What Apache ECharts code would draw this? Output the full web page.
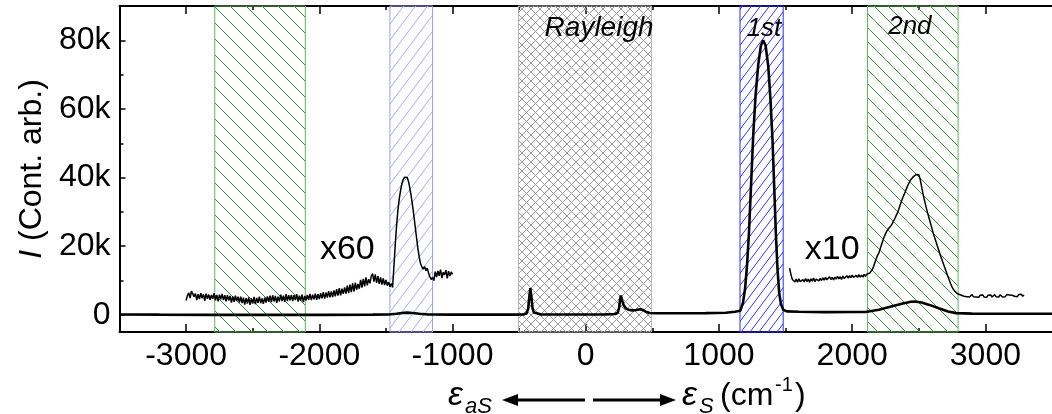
<!DOCTYPE html>
<html>
<head>
<meta charset="utf-8">
<script src="https://cdn.jsdelivr.net/npm/echarts@6/dist/echarts.min.js"></script>
<style>
  html, body { margin: 0; padding: 0; background: #fff; }
  #chart { width: 1052px; height: 414px; }
</style>
</head>
<body>
<div id="chart"></div>
<script>
// Raman shift (cm-1) and intensity of the full spectrum
const mainShift = [-3500, -3200, -2800, -2400, -2000, -1600, -1480, -1420, -1380, -1340, -1300, -1250, -1180, -1000, -700, -520,
  -470, -445, -432, -424, -416, -408, -400, -390, -375, -340, -200, 0, 150, 220, 240, 250, 258, 264, 272, 285, 300, 320, 350,
  380, 405, 425, 450, 480, 520, 700, 900, 1050, 1120, 1160, 1180, 1195, 1210, 1225, 1240, 1258, 1275, 1295, 1315, 1332, 1350,
  1370, 1387, 1402, 1415, 1427, 1440, 1452, 1465, 1482, 1510, 1600, 1800, 2000, 2100, 2200, 2300, 2380, 2440, 2470, 2520,
  2580, 2650, 2720, 2780, 2900, 3100, 3300, 3500];
const mainCounts = [100, 50, 0, 0, 0, 50, 100, 300, 550, 650, 550, 300, 100, 50, 50, 50,
  100, 400, 1800, 5000, 7800, 5200, 2000, 700, 300, 150, 100, 100, 150, 250, 600, 2000, 4500, 5600, 4300, 2800, 1900, 1500, 1300,
  1400, 1650, 1500, 900, 550, 450, 450, 500, 600, 900, 1200, 3500, 7300, 14000, 23800, 37000, 53000, 64000, 73000, 78500, 80000, 78500,
  72500, 62500, 51000, 37000, 23800, 13000, 6400, 3200, 1500, 1000, 900, 800, 850, 850, 1500, 2500, 3300, 3800, 3900, 3600,
  2900, 1900, 1000, 500, 350, 300, 300, 300];

// anti-Stokes side, magnified x60
const x60Shift = [
  -3000, -2990, -2980, -2970, -2960, -2950, -2940, -2930, -2920, -2910,
  -2900, -2890, -2880, -2870, -2860, -2850, -2840, -2830, -2820, -2810,
  -2800, -2790, -2780, -2770, -2760, -2750, -2740, -2730, -2720, -2710,
  -2700, -2690, -2680, -2670, -2660, -2650, -2640, -2630, -2620, -2610,
  -2600, -2590, -2580, -2570, -2560, -2550, -2540, -2530, -2520, -2510,
  -2500, -2490, -2480, -2470, -2460, -2450, -2440, -2430, -2420, -2410,
  -2400, -2390, -2380, -2370, -2360, -2350, -2340, -2330, -2320, -2310,
  -2300, -2290, -2280, -2270, -2260, -2250, -2240, -2230, -2220, -2210,
  -2200, -2190, -2180, -2170, -2160, -2150, -2140, -2130, -2120, -2110,
  -2100, -2090, -2080, -2070, -2060, -2050, -2040, -2030, -2020, -2010,
  -2000, -1990, -1980, -1970, -1960, -1950, -1940, -1930, -1920, -1910,
  -1900, -1890, -1880, -1870, -1860, -1850, -1840, -1830, -1820, -1810,
  -1800, -1790, -1780, -1770, -1760, -1750, -1740, -1730, -1720, -1710,
  -1700, -1690, -1680, -1670, -1660, -1650, -1640, -1630, -1620, -1610,
  -1600, -1590, -1580, -1570, -1560, -1550, -1540, -1530, -1520, -1510,
  -1500, -1490, -1480, -1470, -1460, -1450, -1440, -1430, -1420, -1410,
  -1400, -1390, -1380, -1370, -1360, -1350, -1340, -1330, -1320, -1310,
  -1300, -1290, -1280, -1270, -1260, -1250, -1240, -1230, -1220, -1210,
  -1200, -1190, -1180, -1170, -1160, -1150, -1140, -1130, -1120, -1110,
  -1100, -1090, -1080, -1070, -1060, -1050, -1040, -1030, -1020, -1010,
  -1000];
const x60Counts = [
  4200, 5600, 6400, 4900, 6900, 7400, 5300, 6200, 4300, 6000,
  4600, 6300, 4800, 6000, 4100, 6200, 4700, 5900, 4400, 5800,
  4700, 6300, 4200, 5800, 3900, 5900, 4500, 6100, 4300, 5700,
  3900, 5700, 4200, 5500, 3600, 5400, 3800, 5600, 4000, 5300,
  3600, 5300, 3400, 5000, 3000, 4900, 3300, 5100, 2900, 4800,
  3300, 5200, 3100, 4900, 3500, 5300, 3400, 4800, 3200, 5000,
  3600, 5400, 3800, 5600, 3700, 5700, 3900, 5500, 3500, 5300,
  3900, 5900, 4000, 5600, 3800, 6000, 4100, 5700, 4200, 5800,
  4000, 5700, 4300, 6000, 3900, 5600, 4100, 5900, 3700, 5500,
  4200, 5800, 4400, 6100, 4300, 5900, 4500, 6200, 4400, 6000,
  4600, 6300, 4800, 6600, 4700, 6500, 5000, 6900, 5100, 6800,
  5200, 7100, 5400, 7500, 5600, 7800, 5700, 7600, 6100, 8000,
  6200, 8500, 6300, 8800, 6600, 9200, 6800, 9400, 7300, 9000,
  7600, 10200, 7900, 10500, 8300, 10900, 8600, 10400, 9200, 11300,
  12000, 9700, 11800, 9300, 11300, 9000, 10900, 8800, 10600, 8700,
  10200, 8500, 9600, 8200, 9100, 8000, 14000, 20500, 26000, 30500,
  33800, 36300, 38200, 39500, 40100, 39700, 40000, 38800, 36800, 34500,
  31800, 28800, 25600, 22400, 19300, 16800, 14900, 14000, 13300, 14100,
  12900, 13600, 12200, 11100, 10300, 10900, 10000, 12600, 11000, 12800,
  11400, 13200, 10700, 12400, 11600, 13000, 10600, 12700, 11300, 12500,
  11800];

// Stokes side, magnified x10
const x10Shift = [
  1530, 1540, 1550, 1560, 1570, 1580, 1590, 1600, 1610, 1620,
  1630, 1640, 1650, 1660, 1670, 1680, 1690, 1700, 1710, 1720,
  1730, 1740, 1750, 1760, 1770, 1780, 1790, 1800, 1810, 1820,
  1830, 1840, 1850, 1860, 1870, 1880, 1890, 1900, 1910, 1920,
  1930, 1940, 1950, 1960, 1970, 1980, 1990, 2000, 2010, 2020,
  2030, 2040, 2050, 2060, 2070, 2080, 2090, 2100, 2110, 2120,
  2130, 2140, 2150, 2160, 2170, 2180, 2190, 2200, 2210, 2220,
  2230, 2240, 2250, 2260, 2270, 2280, 2290, 2300, 2310, 2320,
  2330, 2340, 2350, 2360, 2370, 2380, 2390, 2400, 2410, 2420,
  2430, 2440, 2450, 2460, 2470, 2480, 2490, 2500, 2510, 2520,
  2530, 2540, 2550, 2560, 2570, 2580, 2590, 2600, 2610, 2620,
  2630, 2640, 2650, 2660, 2670, 2680, 2690, 2700, 2710, 2720,
  2730, 2740, 2750, 2760, 2770, 2780, 2790, 2800, 2810, 2820,
  2830, 2840, 2850, 2860, 2870, 2880, 2890, 2900, 2910, 2920,
  2930, 2940, 2950, 2960, 2970, 2980, 2990, 3000, 3010, 3020,
  3030, 3040, 3050, 3060, 3070, 3080, 3090, 3100, 3110, 3120,
  3130, 3140, 3150, 3160, 3170, 3180, 3190, 3200, 3210, 3220,
  3230, 3240, 3250, 3260, 3270, 3280, 3290];
const x10Counts = [
  13600, 11800, 10400, 10100, 9600, 10400, 9500, 10500, 9700, 9400,
  10300, 9600, 10600, 9700, 10400, 9500, 10500, 9800, 10700, 9700,
  10400, 10800, 9900, 10600, 10000, 10800, 10100, 10900, 10200, 10700,
  11100, 10300, 10900, 10200, 11000, 10400, 11200, 10500, 11100, 10300,
  11300, 10600, 11100, 11400, 10700, 11400, 10800, 11600, 10900, 10600,
  11500, 10900, 11700, 11000, 11600, 11000, 11800, 11200, 11900, 11400,
  12100, 12500, 13100, 14000, 15200, 16300, 17300, 18000, 19200, 20400,
  21600, 22700, 23600, 24400, 25000, 25500, 25900, 26500, 27300, 28000,
  28900, 29700, 30800, 32000, 33100, 34200, 35100, 36000, 37000, 37900,
  38700, 39400, 39800, 40300, 40600, 40900, 40500, 40800, 39600, 37600,
  35600, 33800, 32200, 30600, 29200, 27800, 26400, 25000, 23600, 22400,
  21200, 20000, 18800, 17600, 16500, 15400, 14300, 13200, 12100, 11000,
  10000, 9000, 8100, 7400, 6900, 6500, 6200, 6000, 5800, 5700,
  5900, 5400, 5800, 5300, 5700, 5200, 5600, 5900, 5300, 5700,
  5200, 5600, 5100, 5700, 5300, 5800, 5200, 5600, 5100, 5700,
  5300, 5800, 5200, 5600, 5900, 5300, 5700, 5200, 5800, 5400,
  5200, 5700, 5300, 5900, 5400, 5800, 5300, 5700, 6000, 5400,
  5800, 5300, 5900, 5500, 6000, 5400, 5800];

// shaded spectral windows
const bandFrom = [-2785, -1470, -505, 1158, 2115];
const bandTo = [-2105, -1150, 493, 1482, 2795];

// axis ticks
const shiftTicks = [-3000, -2000, -1000, 0, 1000, 2000, 3000];
const shiftMinorTicks = [-2500, -1500, -500, 500, 1500, 2500];
const countTicks = [0, 20000, 40000, 60000, 80000];
const countMinorTicks = [10000, 30000, 50000, 70000];

// text annotations inside the plot
const annoText = ['Rayleigh', '1st', '2nd', 'x60', 'x10'];
const annoShift = [100, 1338, 2433, -1790, 1850];
const annoCounts = [83600, 83400, 83900, 19000, 19000];

const FONT = "'Liberation Sans', Arial, Helvetica, sans-serif";

function hatch(w, h, color, lw, dirs) {
  const c = document.createElement('canvas');
  c.width = w; c.height = h;
  const g = c.getContext('2d');
  g.strokeStyle = color;
  g.lineWidth = lw;
  dirs.forEach(function (d) {
    for (let k = -1; k <= 1; k++) {
      g.beginPath();
      if (d === '/') { g.moveTo(k * w, h); g.lineTo((k + 1) * w, 0); }
      else { g.moveTo(k * w, 0); g.lineTo((k + 1) * w, h); }
      g.stroke();
    }
  });
  return { image: c, repeat: 'repeat' };
}

const bandStyles = [
  { color: hatch(16, 16, '#2f9a2f', 1, ['\\']), borderColor: '#5cb85c' },
  { color: hatch(12, 16, '#a9aef5', 1, ['/']), borderColor: '#9c9cff' },
  { color: hatch(9, 9, '#9a9a9a', 1, ['/', '\\']), borderColor: '#b4b4b4' },
  { color: hatch(9, 12, '#3535ff', 1, ['/']), borderColor: '#2a2aff' },
  { color: hatch(14, 14, '#2f9a2f', 1, ['\\']), borderColor: '#5cb85c' }
];

const pairs = (xs, ys) => xs.map((x, i) => [x, ys[i]]);

const chart = echarts.init(document.getElementById('chart'), null, { renderer: 'canvas' });

const tickStyle = { color: '#000', width: 1.5 };
const xCommon = { type: 'value', min: -3500, max: 3500, splitLine: { show: false } };
const yCommon = { type: 'value', min: -5000, max: 90000, splitLine: { show: false } };

const option = {
  animation: false,
  backgroundColor: '#fff',
  grid: { left: 119.5, top: 6, width: 937, height: 326 },
  xAxis: [
    Object.assign({}, xCommon, {
      position: 'bottom',
      axisLine: { show: true, onZero: false, lineStyle: { color: '#000', width: 2 } },
      axisTick: { show: true, inside: true, length: 8, customValues: shiftTicks, lineStyle: tickStyle },
      axisLabel: {
        show: true, customValues: shiftTicks, margin: 8, fontSize: 32, color: '#000', fontFamily: FONT,
        formatter: function (v) { return String(v); }
      }
    }),
    Object.assign({}, xCommon, {
      position: 'bottom',
      axisLine: { show: false, onZero: false },
      axisTick: { show: true, inside: true, length: 4, customValues: shiftMinorTicks, lineStyle: tickStyle },
      axisLabel: { show: false }
    }),
    Object.assign({}, xCommon, {
      position: 'top',
      axisLine: { show: true, onZero: false, lineStyle: { color: '#000', width: 2 } },
      axisTick: { show: true, inside: true, length: 8, customValues: shiftTicks, lineStyle: tickStyle },
      axisLabel: { show: false }
    }),
    Object.assign({}, xCommon, {
      position: 'top',
      axisLine: { show: false, onZero: false },
      axisTick: { show: true, inside: true, length: 4, customValues: shiftMinorTicks, lineStyle: tickStyle },
      axisLabel: { show: false }
    })
  ],
  yAxis: [
    Object.assign({}, yCommon, {
      position: 'left',
      axisLine: { show: true, onZero: false, lineStyle: { color: '#000', width: 2 } },
      axisTick: { show: true, inside: true, length: 6, customValues: countTicks, lineStyle: tickStyle },
      axisLabel: {
        show: true, customValues: countTicks, margin: 9, fontSize: 32, color: '#000', fontFamily: FONT,
        formatter: function (v) { return v === 0 ? '0' : (v / 1000) + 'k'; }
      },
      name: '{it|I} (Cont. arb.)',
      nameLocation: 'middle',
      nameRotate: 90,
      nameGap: 68,
      nameTextStyle: {
        fontSize: 32, color: '#000', fontFamily: FONT,
        rich: { it: { fontSize: 32, fontStyle: 'italic', color: '#000', fontFamily: FONT } }
      }
    }),
    Object.assign({}, yCommon, {
      position: 'left',
      axisLine: { show: false, onZero: false },
      axisTick: { show: true, inside: true, length: 4, customValues: countMinorTicks, lineStyle: tickStyle },
      axisLabel: { show: false }
    })
  ],
  series: [
    {
      name: 'windows', type: 'line', data: [], z: 1, silent: true,
      markArea: {
        silent: true,
        label: { show: false },
        data: bandFrom.map(function (a, i) {
          return [
            { xAxis: a, itemStyle: Object.assign({ borderWidth: 1 }, bandStyles[i]) },
            { xAxis: bandTo[i] }
          ];
        })
      }
    },
    {
      name: 'spectrum', type: 'line', data: pairs(mainShift, mainCounts), z: 4,
      showSymbol: false, symbol: 'none', silent: true,
      lineStyle: { color: '#000', width: 2.6 }
    },
    {
      name: 'x60', type: 'line', data: pairs(x60Shift, x60Counts), z: 3,
      showSymbol: false, symbol: 'none', silent: true,
      lineStyle: { color: '#000', width: 1.5 }
    },
    {
      name: 'x10', type: 'line', data: pairs(x10Shift, x10Counts), z: 3,
      showSymbol: false, symbol: 'none', silent: true,
      lineStyle: { color: '#000', width: 1.5 }
    },
    {
      name: 'labels', type: 'scatter', symbolSize: 0, z: 5, silent: true,
      itemStyle: { opacity: 1 },
      data: annoText.map(function (t, i) {
        const italic = i < 3;
        return {
          name: t, value: [annoShift[i], annoCounts[i]],
          label: {
            show: true, position: 'inside', formatter: '{b}', color: '#000', opacity: 1, fontFamily: FONT,
            fontStyle: italic ? 'italic' : 'normal',
            fontSize: i === 0 ? 28 : (italic ? 26 : 34)
          }
        };
      })
    }
  ],
  graphic: [
    { type: 'text', left: 448, top: 379, style: { text: 'ε', font: 'italic 34px ' + FONT, fill: '#000' } },
    { type: 'text', left: 465, top: 396, style: { text: 'aS', font: 'italic 22px ' + FONT, fill: '#000' } },
    { type: 'line', shape: { x1: 514, y1: 400, x2: 585, y2: 400 }, style: { stroke: '#000', lineWidth: 3 } },
    { type: 'polygon', shape: { points: [[502, 400], [518, 394], [518, 406]] }, style: { fill: '#000' } },
    { type: 'line', shape: { x1: 593, y1: 400, x2: 664, y2: 400 }, style: { stroke: '#000', lineWidth: 3 } },
    { type: 'polygon', shape: { points: [[676, 400], [660, 394], [660, 406]] }, style: { fill: '#000' } },
    { type: 'text', left: 682, top: 379, style: { text: 'ε', font: 'italic 34px ' + FONT, fill: '#000' } },
    { type: 'text', left: 699, top: 396, style: { text: 'S', font: 'italic 22px ' + FONT, fill: '#000' } },
    { type: 'text', left: 720, top: 380, style: { text: '(cm', font: '32px ' + FONT, fill: '#000' } },
    { type: 'text', left: 775, top: 375, style: { text: '-1', font: '20px ' + FONT, fill: '#000' } },
    { type: 'text', left: 795, top: 380, style: { text: ')', font: '32px ' + FONT, fill: '#000' } }
  ]
};

chart.setOption(option);
</script>
</body>
</html>
